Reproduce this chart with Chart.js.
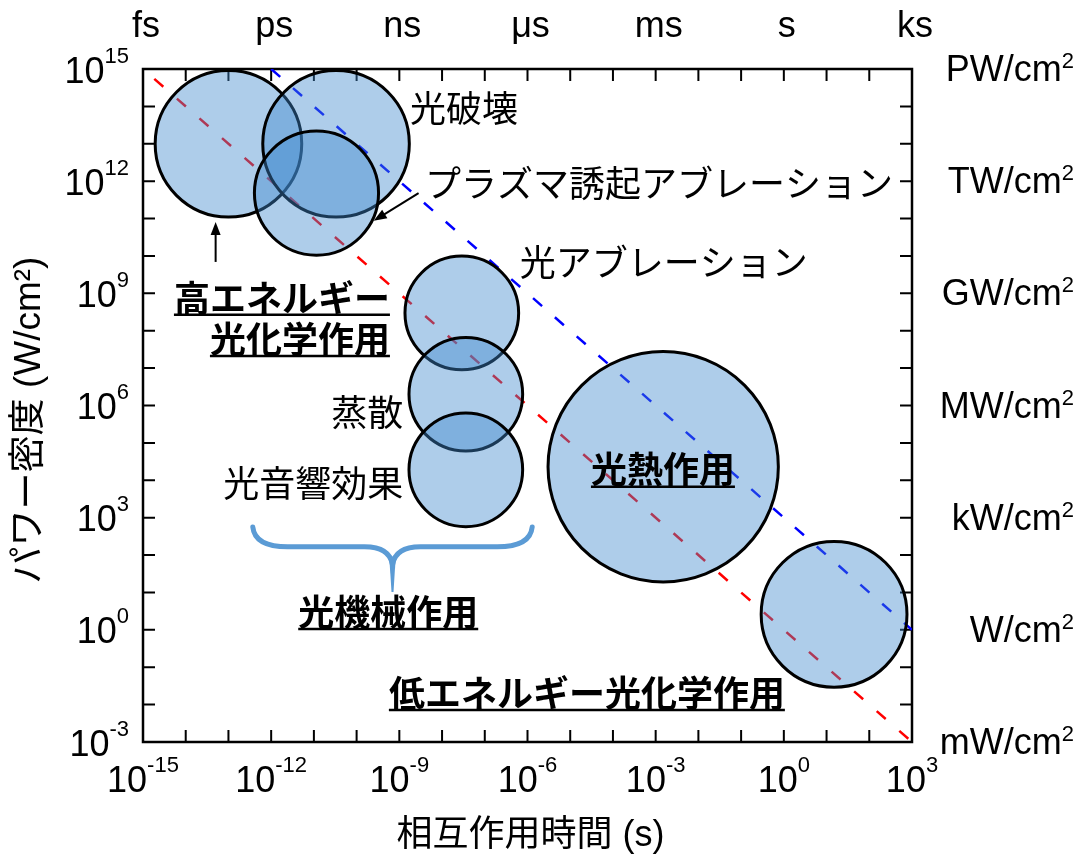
<!DOCTYPE html>
<html>
<head>
<meta charset="utf-8">
<script src="https://cdn.jsdelivr.net/npm/chart.js@4"></script>
<style>
	html, body { margin: 0; padding: 0; background: #fff; }
</style>
</head>
<body>
<canvas id="chart" width="1084" height="860"></canvas>
<script>
// axis ticks (exponents) and their labels
const TIME_EXP = [-15, -12, -9, -6, -3, 0, 3]
const TIME_UNITS = ['fs', 'ps', 'ns', 'μs', 'ms', 's', 'ks']
const POWER_EXP = [15, 12, 9, 6, 3, 0, -3]
const POWER_UNITS = ['PW/cm', 'TW/cm', 'GW/cm', 'MW/cm', 'kW/cm', 'W/cm', 'mW/cm']

// process regions: centre time (s), centre power density (W/cm2), radius in decades of power
const REGIONS = ['高エネルギー光化学作用', '光破壊', 'プラズマ誘起アブレーション', '光アブレーション', '蒸散', '光音響効果', '光熱作用', '低エネルギー光化学作用']
const CENTER_TIME = [1.0e-13, 3.3e-11, 1.15e-11, 2.9e-8, 3.6e-8, 3.6e-8, 1.5e-3, 15]
const CENTER_POWER = [1.0e13, 1.0e13, 4.8e11, 3.0e8, 2.0e6, 1.9e4, 2.3e4, 2.6]
const SPAN = [1.96, 1.96, 1.66, 1.52, 1.52, 1.52, 3.08, 1.95]

// fluence lines (1 J/cm2 and 1 kJ/cm2)
const RED_TIME = [1e-15, 1e3]
const RED_POWER = [1e15, 1e-3]
const BLUE_TIME = [1e-12, 1e3]
const BLUE_POWER = [1e15, 1e0]

const LATIN = "'Liberation Sans', Arial, sans-serif"
const JP = "'Noto Sans CJK JP', sans-serif"

// annotations, placed in log10 data coordinates
const NOTES = [
	{ text: '光破壊', x: -8.75, y: 13.96, align: 'left' },
	{ text: 'プラズマ誘起アブレーション', x: -8.40, y: 11.95, align: 'left' },
	{ text: '光アブレーション', x: -6.18, y: 9.84, align: 'left' },
	{ text: '高エネルギー', x: -9.22, y: 8.88, align: 'right', bold: true },
	{ text: '光化学作用', x: -9.22, y: 7.78, align: 'right', bold: true },
	{ text: '蒸散', x: -8.91, y: 5.83, align: 'right' },
	{ text: '光音響効果', x: -8.91, y: 3.93, align: 'right' },
	{ text: '光熱作用', x: -2.83, y: 4.28, align: 'center', bold: true },
	{ text: '光機械作用', x: -9.26, y: 0.48, align: 'center', bold: true },
	{ text: '低エネルギー光化学作用', x: -4.61, y: -1.69, align: 'center', bold: true },
]
const ARROWS = [
	{ x0: -13.30, y0: 9.84, x1: -13.30, y1: 10.91 },
	{ x0: -8.55, y0: 11.68, x1: -9.60, y1: 10.94 },
]
const BRACE = { x0: -12.43, x1: -5.89, top: 2.75, mid: 2.22, tip: 1.01 }

function drawPow(ctx, exp, x, y, align, rise) {
	ctx.font = '36px ' + LATIN
	const wb = ctx.measureText('10').width
	ctx.font = '22px ' + LATIN
	const ws = ctx.measureText(String(exp)).width
	const left = align === 'center' ? x - (wb + ws) / 2 : x - wb - ws
	ctx.textAlign = 'left'
	ctx.textBaseline = 'alphabetic'
	ctx.font = '36px ' + LATIN
	ctx.fillText('10', left, y)
	ctx.font = '22px ' + LATIN
	ctx.fillText(String(exp), left + wb, y - rise)
}

const frame = {
	id: 'frame',
	beforeDatasetsDraw(chart) {
		const { ctx, chartArea: a, scales: { x, y } } = chart
		ctx.save()
		ctx.strokeStyle = '#000'
		ctx.lineWidth = 2
		ctx.beginPath()
		for (let e = -15; e <= 3; e++) {
			const px = x.getPixelForValue(10 ** e)
			ctx.moveTo(px, a.bottom); ctx.lineTo(px, a.bottom - 12)
			ctx.moveTo(px, a.top); ctx.lineTo(px, a.top + 12)
		}
		for (let e = -3; e <= 15; e++) {
			const py = y.getPixelForValue(10 ** e)
			ctx.moveTo(a.left, py); ctx.lineTo(a.left + 12, py)
			ctx.moveTo(a.right, py); ctx.lineTo(a.right - 12, py)
		}
		ctx.stroke()
		ctx.lineWidth = 2.5
		ctx.strokeRect(a.left, a.top, a.right - a.left, a.bottom - a.top)

		ctx.fillStyle = '#000'
		TIME_EXP.forEach((e, i) => {
			const px = x.getPixelForValue(10 ** e)
			drawPow(ctx, e, px, a.bottom + 50, 'center', 20)
			ctx.font = '36px ' + LATIN
			ctx.textAlign = 'center'
			ctx.fillText(TIME_UNITS[i], px + 3, 37)
		})
		POWER_EXP.forEach((e, i) => {
			const py = y.getPixelForValue(10 ** e)
			drawPow(ctx, e, a.left - 14, py + 13.5, 'right', 20)
			ctx.font = '22px ' + LATIN
			const w2 = ctx.measureText('2').width
			ctx.textAlign = 'right'
			ctx.fillText('2', 1074, py - 1)
			ctx.font = '36px ' + LATIN
			ctx.fillText(POWER_UNITS[i], 1074 - w2, py + 12)
		})

		// axis titles
		ctx.textAlign = 'center'
		ctx.textBaseline = 'middle'
		ctx.font = '36px ' + LATIN + ", 'Noto Sans CJK JP'"
		ctx.fillText('相互作用時間 (s)', (a.left + a.right) / 2 + 3, 836)
		ctx.translate(30, 420)
		ctx.rotate(-Math.PI / 2)
		ctx.font = '37px ' + LATIN + ", 'Noto Sans CJK JP'"
		ctx.fillText('パワー密度 (W/cm²)', 0, 0)
		ctx.restore()
	},
	afterDatasetsDraw(chart) {
		const { ctx, scales: { x, y } } = chart
		const X = e => x.getPixelForValue(10 ** e)
		const Y = e => y.getPixelForValue(10 ** e)
		ctx.save()
		ctx.fillStyle = '#000'
		ctx.strokeStyle = '#000'
		ctx.textBaseline = 'middle'
		NOTES.forEach(n => {
			ctx.font = (n.bold ? 'bold ' : '') + '36px ' + JP
			ctx.textAlign = n.align
			const px = X(n.x), py = Y(n.y)
			ctx.fillText(n.text, px, py)
			if (n.bold) {
				const w = ctx.measureText(n.text).width
				const l = n.align === 'left' ? px : n.align === 'right' ? px - w : px - w / 2
				ctx.lineWidth = 2.5
				ctx.beginPath()
				ctx.moveTo(l, py + 17); ctx.lineTo(l + w, py + 17)
				ctx.stroke()
			}
		})
		ARROWS.forEach(ar => {
			const x0 = X(ar.x0), y0 = Y(ar.y0), x1 = X(ar.x1), y1 = Y(ar.y1)
			const ang = Math.atan2(y1 - y0, x1 - x0)
			ctx.lineWidth = 2
			ctx.beginPath()
			ctx.moveTo(x0, y0)
			ctx.lineTo(x1 - 10 * Math.cos(ang), y1 - 10 * Math.sin(ang))
			ctx.stroke()
			ctx.beginPath()
			ctx.moveTo(x1, y1)
			ctx.lineTo(x1 - 13 * Math.cos(ang) + 5 * Math.sin(ang), y1 - 13 * Math.sin(ang) - 5 * Math.cos(ang))
			ctx.lineTo(x1 - 13 * Math.cos(ang) - 5 * Math.sin(ang), y1 - 13 * Math.sin(ang) + 5 * Math.cos(ang))
			ctx.closePath()
			ctx.fill()
		})
		// brace under the photomechanical circles
		const bx0 = X(BRACE.x0), bx1 = X(BRACE.x1), xc = (bx0 + bx1) / 2
		const top = Y(BRACE.top), mid = Y(BRACE.mid), tip = Y(BRACE.tip)
		ctx.strokeStyle = '#5B9BD5'
		ctx.fillStyle = '#5B9BD5'
		ctx.lineWidth = 5
		ctx.lineCap = 'round'
		ctx.beginPath()
		ctx.moveTo(bx0, top)
		ctx.quadraticCurveTo(bx0 + 2, mid, bx0 + 35, mid)
		ctx.lineTo(xc - 28, mid)
		ctx.quadraticCurveTo(xc - 3, mid, xc, mid + 18)
		ctx.moveTo(bx1, top)
		ctx.quadraticCurveTo(bx1 - 2, mid, bx1 - 35, mid)
		ctx.lineTo(xc + 28, mid)
		ctx.quadraticCurveTo(xc + 3, mid, xc, mid + 18)
		ctx.stroke()
		ctx.beginPath()
		ctx.moveTo(xc - 3, mid + 14)
		ctx.lineTo(xc + 3, mid + 14)
		ctx.lineTo(xc + 1, tip)
		ctx.lineTo(xc - 1, tip)
		ctx.closePath()
		ctx.fill()
		ctx.restore()
	}
}

const regionData = CENTER_TIME.map((t, i) => ({ x: t, y: CENTER_POWER[i], span: SPAN[i], label: REGIONS[i] }))

// radius of each region in pixels, from its span in decades on the power axis
function regionRadius(ctx) {
	const s = ctx.chart.scales.y
	const d = ctx.raw
	if (!s || !d) return 0
	return Math.abs(s.getPixelForValue(d.y) - s.getPixelForValue(d.y * 10 ** d.span))
}

const config = {
	type: 'scatter',
	data: {
		datasets: [
			{
				label: 'regions',
				data: regionData,
				order: 0,
				clip: false,
				showLine: false,
				pointStyle: 'circle',
				pointBackgroundColor: 'rgba(62,136,205,0.42)',
				pointBorderColor: '#000',
				pointBorderWidth: 3,
				pointRadius: regionRadius,
				pointHoverRadius: regionRadius,
			},
			{
				type: 'line',
				label: '1 J/cm2',
				data: RED_TIME.map((t, i) => ({ x: t, y: RED_POWER[i] })),
				order: 1,
				borderColor: '#ff0000',
				borderWidth: 2.5,
				borderDash: [12, 18],
				borderDashOffset: 15,
				pointRadius: 0,
				fill: false,
			},
			{
				type: 'line',
				label: '1 kJ/cm2',
				data: BLUE_TIME.map((t, i) => ({ x: t, y: BLUE_POWER[i] })),
				order: 1,
				borderColor: '#0000ff',
				borderWidth: 2.5,
				borderDash: [12, 17],
				pointRadius: 0,
				fill: false,
			},
		]
	},
	options: {
		responsive: false,
		animation: false,
		events: [],
		layout: {
			padding: { left: 143, top: 69, right: 172, bottom: 118 }
		},
		plugins: {
			legend: { display: false },
			tooltip: { enabled: false },
			title: { display: false },
		},
		scales: {
			x: { type: 'logarithmic', min: 1e-15, max: 1e3, display: false },
			y: { type: 'logarithmic', min: 1e-3, max: 1e15, display: false },
		}
	},
	plugins: [frame]
}

const chart = new Chart(document.getElementById('chart'), config)
</script>
</body>
</html>
